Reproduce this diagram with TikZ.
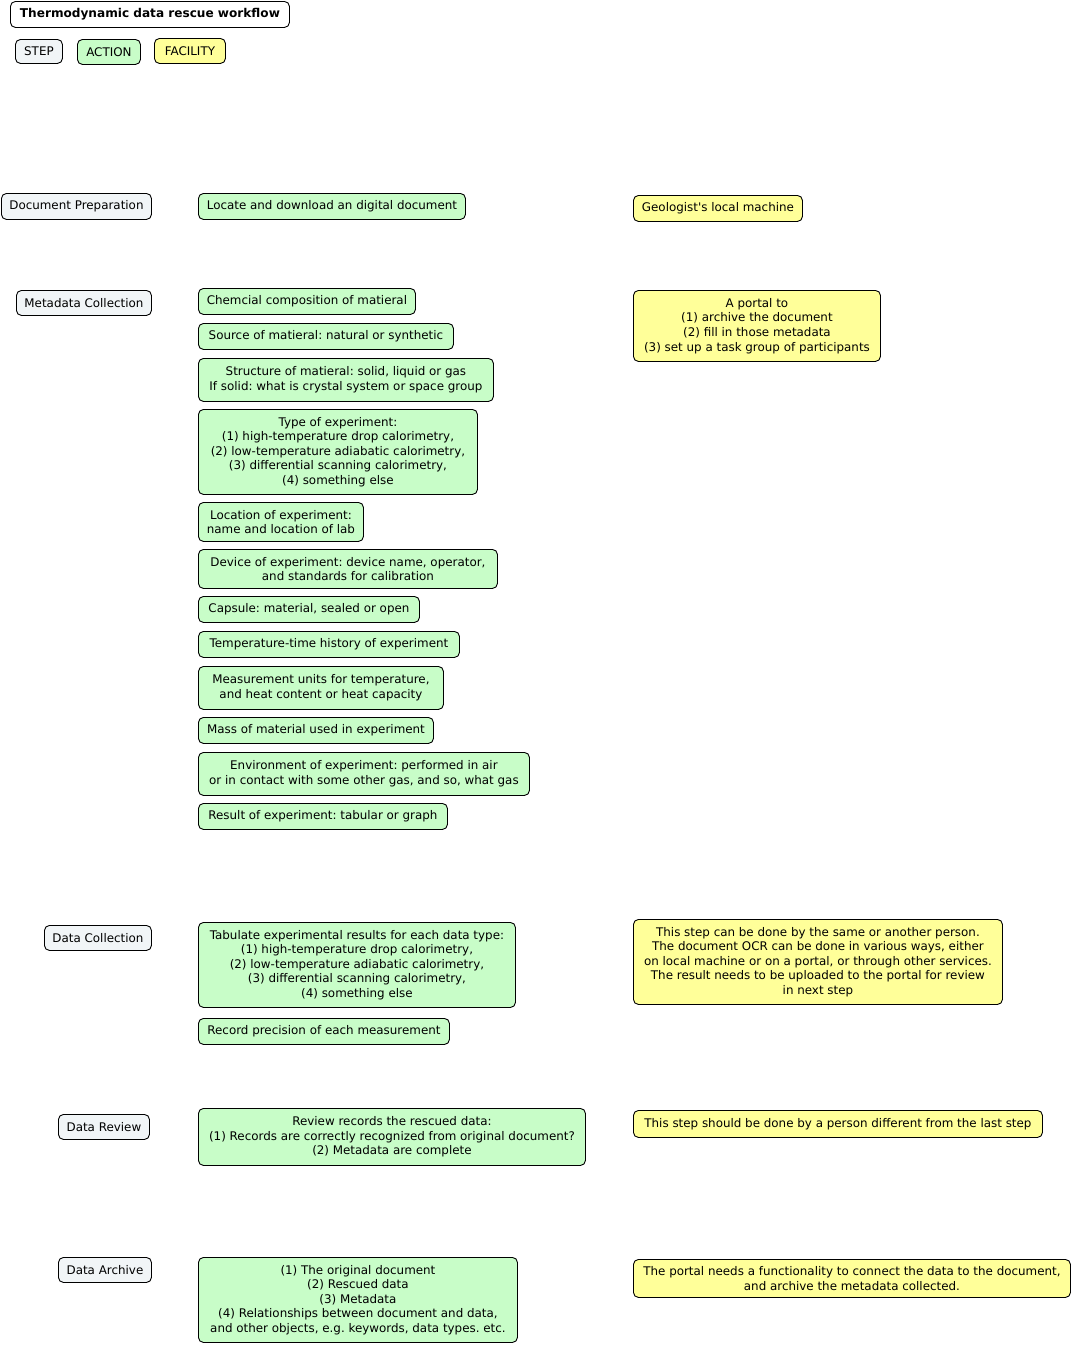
\documentclass[tikz,border=0pt]{standalone}
\usepackage{fontspec}
\setmainfont{DejaVu Sans}[Ligatures=TeXOff]
\frenchspacing
\definecolor{stepc}{HTML}{F1F5F7}
\definecolor{actc}{HTML}{C8FDC8}
\definecolor{facc}{HTML}{FFFF99}
\tikzset{
  box/.style={draw=black, line width=0.9pt, rounded corners=5pt, anchor=north west, inner sep=0pt, align=center,
    font=\fontsize{11.9}{14.6}\selectfont, text=black},
  stepbox/.style={box, fill=stepc},
  actbox/.style={box, fill=actc},
  facbox/.style={box, fill=facc},
  titlebox/.style={box, fill=white, font=\bfseries\fontsize{12.1}{14.6}\selectfont, text=black},
}
\begin{document}
\begin{tikzpicture}[x=1pt,y=-1pt]
\useasboundingbox (0,0) rectangle (1073,1345);
% title and legend
\node[titlebox, minimum width=279, minimum height=26] (title) at (10,1) {Thermodynamic data rescue workflow};
\node[stepbox, minimum width=47, minimum height=24] (lstep) at (15,39) {STEP};
\node[actbox, minimum width=63, minimum height=25] (lact) at (77,39) {ACTION};
\node[facbox, minimum width=71, minimum height=25] (lfac) at (154,38) {FACILITY};
% steps
\node[stepbox, minimum width=150, minimum height=26] (s1) at (1,193) {Document Preparation};
\node[stepbox, minimum width=135, minimum height=25] (s2) at (16,290) {Metadata Collection};
\node[stepbox, minimum width=107, minimum height=25] (s3) at (44,925) {Data Collection};
\node[stepbox, minimum width=91, minimum height=25] (s4) at (58,1114) {Data Review};
\node[stepbox, minimum width=93, minimum height=25] (s5) at (58,1257) {Data Archive};
% actions
\node[actbox, minimum width=267, minimum height=26] (a1) at (198,193) {Locate and download an digital document};
\node[actbox, minimum width=217, minimum height=26] (a2) at (198,288) {Chemcial composition of matieral};
\node[actbox, minimum width=255, minimum height=26] (a3) at (198,323) {Source of matieral: natural or synthetic};
\node[actbox, minimum width=295, minimum height=43] (a4) at (198,358) {Structure of matieral: solid, liquid or gas\\If solid: what is crystal system or space group};
\node[actbox, minimum width=279, minimum height=85] (a5) at (198,409) {Type of experiment:\\(1) high-temperature drop calorimetry,\\(2) low-temperature adiabatic calorimetry,\\(3) differential scanning calorimetry,\\(4) something else};
\node[actbox, minimum width=165, minimum height=39] (a6) at (198,502) {Location of experiment:\\name and location of lab};
\node[actbox, minimum width=299, minimum height=39] (a7) at (198,549) {Device of experiment: device name, operator,\\and standards for calibration};
\node[actbox, minimum width=221, minimum height=26] (a8) at (198,596) {Capsule: material, sealed or open};
\node[actbox, minimum width=261, minimum height=26] (a9) at (198,631) {Temperature-time history of experiment};
\node[actbox, minimum width=245, minimum height=43] (a10) at (198,666) {Measurement units for temperature,\\and heat content or heat capacity};
\node[actbox, minimum width=235, minimum height=26] (a11) at (198,717) {Mass of material used in experiment};
\node[actbox, minimum width=331, minimum height=43] (a12) at (198,752) {Environment of experiment: performed in air\\or in contact with some other gas, and so, what gas};
\node[actbox, minimum width=249, minimum height=26] (a13) at (198,803) {Result of experiment: tabular or graph};
\node[actbox, minimum width=317, minimum height=85] (a14) at (198,922) {Tabulate experimental results for each data type:\\(1) high-temperature drop calorimetry,\\(2) low-temperature adiabatic calorimetry,\\(3) differential scanning calorimetry,\\(4) something else};
\node[actbox, minimum width=251, minimum height=26] (a15) at (198,1018) {Record precision of each measurement};
\node[actbox, minimum width=387, minimum height=57] (a16) at (198,1108) {Review records the rescued data:\\(1) Records are correctly recognized from original document?\\(2) Metadata are complete};
\node[actbox, minimum width=319, minimum height=85] (a17) at (198,1257) {(1) The original document\\(2) Rescued data\\(3) Metadata\\(4) Relationships between document and data,\\and other objects, e.g. keywords, data types. etc.};
% facilities
\node[facbox, minimum width=169, minimum height=26] (f1) at (633,195) {Geologist's local machine};
\node[facbox, minimum width=247, minimum height=71] (f2) at (633,290) {A portal to\\(1) archive the document\\(2) fill in those metadata\\(3) set up a task group of participants};
\node[facbox, minimum width=369, minimum height=85] (f3) at (633,919) {This step can be done by the same or another person.\\The document OCR can be done in various ways, either\\on local machine or on a portal, or through other services.\\The result needs to be uploaded to the portal for review\\in next step};
\node[facbox, minimum width=409, minimum height=27] (f4) at (633,1110) {This step should be done by a person different from the last step};
\node[facbox, minimum width=437, minimum height=38] (f5) at (633,1259) {The portal needs a functionality to connect the data to the document,\\and archive the metadata collected.};
\end{tikzpicture}
\end{document}
